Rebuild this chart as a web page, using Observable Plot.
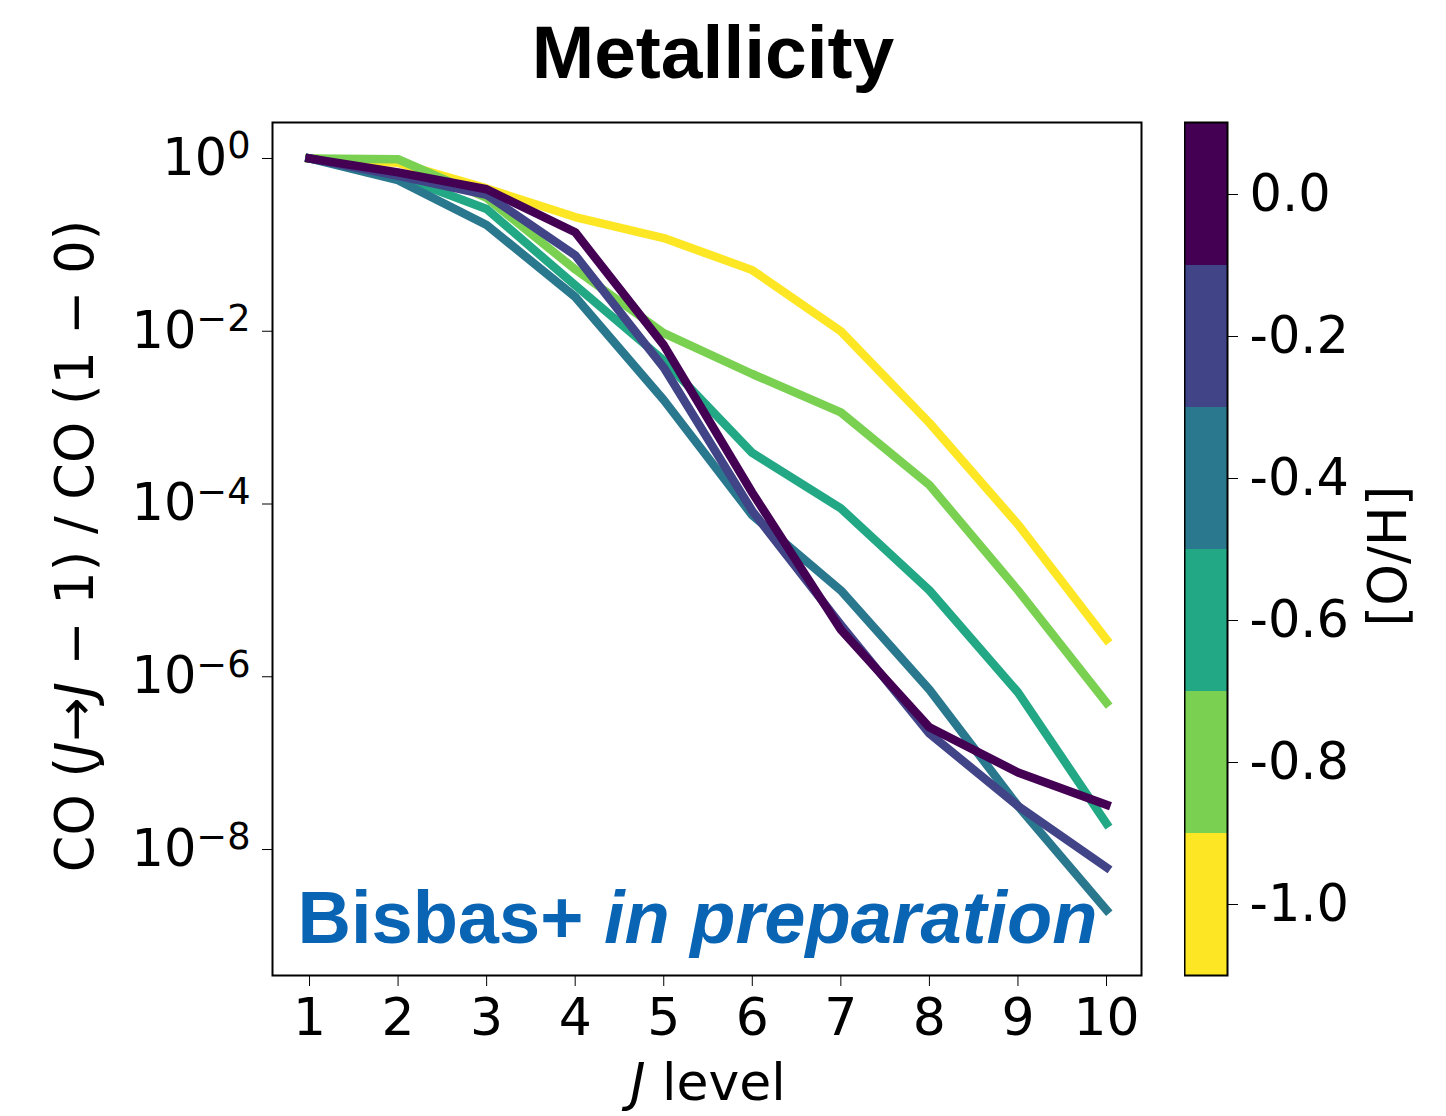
<!DOCTYPE html>
<html><head><meta charset="utf-8">
<script src="https://cdn.jsdelivr.net/npm/d3@7"></script>
<script src="https://cdn.jsdelivr.net/npm/@observablehq/plot@0.6"></script>
<style>
html,body{margin:0;padding:0;background:#fff;}
body{width:1446px;height:1116px;position:relative;overflow:hidden;font-family:"DejaVu Sans",sans-serif;}
#title{position:absolute;left:0;top:2px;width:1426px;text-align:center;font:bold 75px "Liberation Sans",Arial,sans-serif;color:#000;line-height:100px;}
#main{position:absolute;left:0;top:0;}
#cbar{position:absolute;left:1184px;top:0;}
</style>
</head><body>
<div id="title">Metallicity</div>
<div id="main"></div>
<div id="cbar"></div>
<script>
// J levels (x)
const J = [1, 2, 3, 4, 5, 6, 7, 8, 9, 10];
// [O/H] metallicity values (colour categories)
const metallicity = [0.0, -0.2, -0.4, -0.6, -0.8, -1.0];
const metallicityLabels = ["0.0", "-0.2", "-0.4", "-0.6", "-0.8", "-1.0"];
const viridis6 = ["#440154", "#414487", "#2a788e", "#22a884", "#7ad151", "#fde725"];
// CO (J -> J-1) / CO (1-0) line ratios
const ratio_m10 = [1, 0.89, 0.45, 0.21, 0.12, 0.051, 0.010, 8.7e-4, 5.8e-5, 2.7e-6];
const ratio_m08 = [1, 0.98, 0.35, 0.052, 9.5e-3, 3.2e-3, 1.15e-3, 1.66e-4, 1.0e-5, 5.0e-7];
const ratio_m06 = [1, 0.63, 0.26, 0.034, 4.6e-3, 3.9e-4, 8.9e-5, 1.0e-5, 6.6e-7, 2.0e-8];
const ratio_m04 = [1, 0.56, 0.17, 0.025, 1.6e-3, 7.4e-5, 1.0e-5, 7.1e-7, 3.2e-8, 2.0e-9];
const ratio_m02 = [1, 0.63, 0.38, 0.076, 3.8e-3, 8.3e-5, 4.0e-6, 2.2e-7, 3.2e-8, 6.2e-9];
const ratio_p00 = [1, 0.69, 0.44, 0.14, 6.9e-3, 1.35e-4, 3.5e-6, 2.6e-7, 7.8e-8, 3.3e-8];
const yTicks = [1, 1e-2, 1e-4, 1e-6, 1e-8];

// draw order: -1.0 first, 0.0 last (on top)
const series = [
  [-1.0, ratio_m10], [-0.8, ratio_m08], [-0.6, ratio_m06],
  [-0.4, ratio_m04], [-0.2, ratio_m02], [0.0, ratio_p00]
];
const rows = series.flatMap(([oh, vals]) => vals.map((v, i) => ({J: J[i], ratio: v, oh})));

const W = 1446, H = 1116;
const main = Plot.plot({
  width: W, height: H,
  marginTop: 122, marginBottom: 141, marginLeft: 272, marginRight: 305,
  style: {fontFamily: "DejaVu Sans, sans-serif", fontSize: "51px", color: "#000", background: "transparent"},
  x: {domain: [0.582, 10.395], ticks: J, tickFormat: d => String(d), tickSize: 11, tickPadding: 12, label: null},
  y: {type: "log", domain: [3.48e-10, 2.61], ticks: yTicks, tickFormat: d => "10^" + Math.round(Math.log10(d)), tickSize: 10, tickPadding: 12, label: null},
  color: {type: "ordinal", domain: metallicity, range: viridis6},
  marks: [
    Plot.line(rows, {x: "J", y: "ratio", z: "oh", stroke: "oh", strokeWidth: 8.5, strokeLinejoin: "round", strokeLinecap: "square"}),
    Plot.frame({stroke: "#000", strokeWidth: 2}),
    Plot.text(["Bisbas+ "], {frameAnchor: "bottom-left", dx: 25, dy: -33, text: d => d, fill: "#0a64b4", fontSize: 74, fontWeight: "bold", fontFamily: "Liberation Sans, Arial, sans-serif", textAnchor: "start", lineAnchor: "bottom"})
  ]
});
document.getElementById("main").appendChild(main);

const svg = d3.select(main);
// x tick labels a touch larger
svg.selectAll('g[aria-label="x-axis tick label"]').attr("font-size", 52);
// superscript exponents on y tick labels
svg.selectAll('g[aria-label="y-axis tick label"] text').each(function() {
  const t = d3.select(this);
  const s = t.text();
  const exp = s.split("^")[1].replace("-", "\u2212");
  t.text("10");
  t.append("tspan").attr("dy", "-0.45em").attr("font-size", "0.72em").text(exp);
});
// "in preparation" italic part appended to the watermark text
svg.selectAll('g[aria-label="text"] text').each(function() {
  const t = d3.select(this);
  t.append("tspan").attr("font-style", "italic").text("in preparation");
});
// x axis label
const xl = svg.append("text").attr("x", 708).attr("y", 1100).attr("text-anchor", "middle")
  .attr("font-family", "DejaVu Sans, sans-serif").attr("font-size", 52).attr("fill", "#000");
xl.append("tspan").attr("font-style", "italic").text("J");
xl.append("tspan").text(" level");
// y axis label
const yl = svg.append("text").attr("transform", "translate(93,546) rotate(-90)").attr("text-anchor", "middle")
  .attr("font-family", "DejaVu Sans, sans-serif").attr("font-size", 52.5).attr("fill", "#000");
yl.append("tspan").text("CO (");
yl.append("tspan").attr("font-style", "italic").text("J");
yl.append("tspan").text("\u2192");
yl.append("tspan").attr("font-style", "italic").text("J");
yl.append("tspan").text(" \u2212 1) / CO (1 \u2212 0)");

// colour bar
const cbarData = metallicityLabels.map((l, i) => ({label: l, color: viridis6[i]}));
const cbar = Plot.plot({
  width: 262, height: H,
  marginTop: 122, marginBottom: 141, marginLeft: 0, marginRight: 219,
  style: {fontFamily: "DejaVu Sans, sans-serif", fontSize: "51px", color: "#000", background: "transparent"},
  x: {axis: null},
  y: {domain: metallicityLabels, padding: 0, axis: "right", tickSize: 10, tickPadding: 12, label: null},
  marks: [
    Plot.cell(cbarData, {y: "label", fill: "color", inset: 0}),
    Plot.frame({stroke: "#000", strokeWidth: 2})
  ]
});
document.getElementById("cbar").appendChild(cbar);
d3.select(cbar).append("text").attr("transform", "translate(222,556) rotate(-90)").attr("text-anchor", "middle")
  .attr("font-family", "DejaVu Sans, sans-serif").attr("font-size", 53).attr("fill", "#000").text("[O/H]");
</script>
</body></html>
